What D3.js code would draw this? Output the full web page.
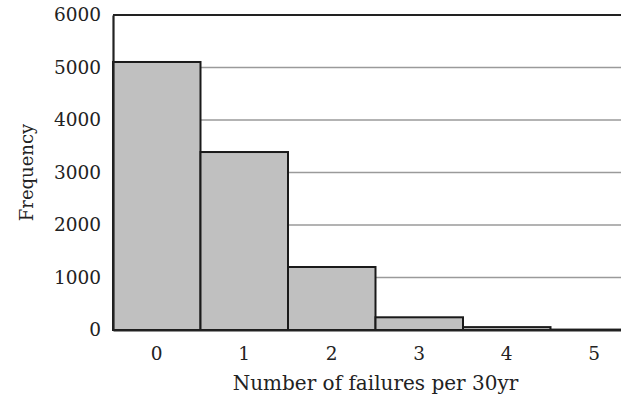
<!DOCTYPE html>
<html>
<head>
<meta charset="utf-8">
<script src="https://cdn.jsdelivr.net/npm/d3@7"></script>
<style>
  html, body { margin: 0; padding: 0; background: #fff; overflow: hidden; }
  svg { display: block; }
  text { font-family: "DejaVu Serif", "Liberation Serif", serif; fill: #222; }
</style>
</head>
<body>
<script>
// Simulated counts of failures per 30-year period
const failureCounts = ["0", "1", "2", "3", "4", "5"];
const frequencies = [5105, 3390, 1200, 242, 55, 8];
const yTicks = [0, 1000, 2000, 3000, 4000, 5000, 6000];

const W = 621, H = 396;
const margin = { top: 15, left: 113 };
const plotW = 525, plotH = 315;

const svg = d3.select("body").append("svg")
  .attr("width", W).attr("height", H);

const g = svg.append("g")
  .attr("transform", `translate(${margin.left},${margin.top})`);

const x = d3.scaleBand().domain(failureCounts).range([0, plotW]).padding(0);
const y = d3.scaleLinear().domain([0, 6000]).range([plotH, 0]);

// horizontal grid lines
g.append("g")
  .selectAll("line")
  .data(yTicks.filter(t => t > 0 && t < 6000))
  .join("line")
  .attr("x1", 0).attr("x2", plotW)
  .attr("y1", d => y(d)).attr("y2", d => y(d))
  .attr("stroke", "#9a9a9a").attr("stroke-width", 1.5);

// top frame line
g.append("line")
  .attr("x1", 0).attr("x2", plotW)
  .attr("y1", y(6000)).attr("y2", y(6000))
  .attr("stroke", "#222").attr("stroke-width", 2.2);

// histogram bars
g.append("g")
  .selectAll("rect")
  .data(frequencies)
  .join("rect")
  .attr("x", (d, i) => x(failureCounts[i]))
  .attr("y", d => y(d))
  .attr("width", x.bandwidth())
  .attr("height", d => plotH - y(d))
  .attr("fill", "#c0c0c0")
  .attr("stroke", "#1a1a1a")
  .attr("stroke-width", 2);

// y axis
const yAxis = g.append("g")
  .call(d3.axisLeft(y).tickValues(yTicks).tickSize(0).tickPadding(12).tickFormat(d3.format("d")));
yAxis.select(".domain").attr("stroke", "#222").attr("stroke-width", 2.2);
yAxis.selectAll("text")
  .attr("font-size", 18.5)
  .attr("font-family", "DejaVu Serif, serif")
  .attr("fill", "#222");

// x axis
const xAxis = g.append("g")
  .attr("transform", `translate(0,${plotH})`)
  .call(d3.axisBottom(x).tickSize(0).tickPadding(17));
xAxis.select(".domain").attr("stroke", "#222").attr("stroke-width", 2.2);
xAxis.selectAll("text")
  .attr("font-size", 18.5)
  .attr("font-family", "DejaVu Serif, serif")
  .attr("fill", "#222");

// axis titles
g.append("text")
  .attr("x", plotW / 2)
  .attr("y", plotH + 60)
  .attr("text-anchor", "middle")
  .attr("font-size", 20)
  .text("Number of failures per 30yr");

g.append("text")
  .attr("transform", `translate(${-80},${plotH / 2}) rotate(-90)`)
  .attr("text-anchor", "middle")
  .attr("font-size", 18)
  .text("Frequency");
</script>
</body>
</html>
